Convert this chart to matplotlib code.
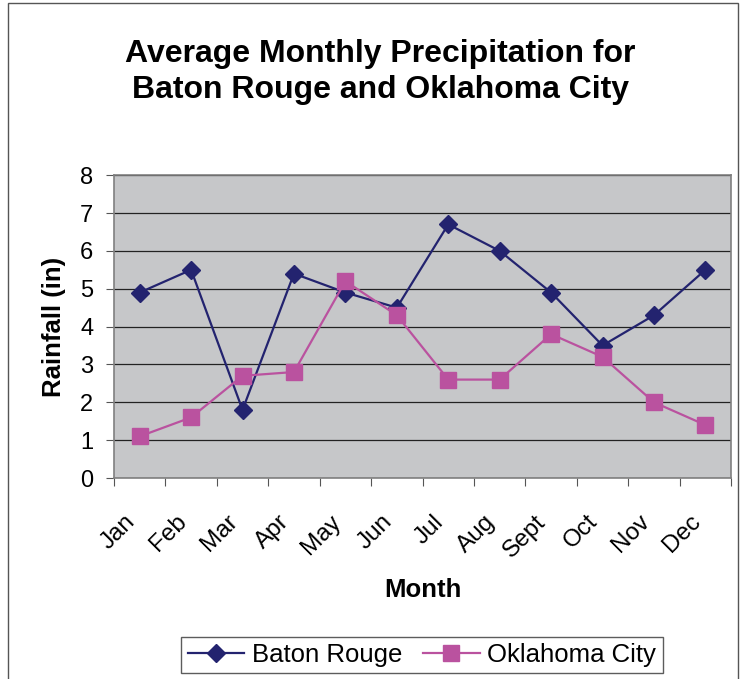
import matplotlib
matplotlib.use("Agg")
import matplotlib.pyplot as plt
from matplotlib.patches import Rectangle
from matplotlib.transforms import ScaledTranslation
import numpy as np

plt.rcParams["font.family"] = ["Liberation Sans", "DejaVu Sans"]

months = ["Jan", "Feb", "Mar", "Apr", "May", "Jun", "Jul", "Aug", "Sept", "Oct", "Nov", "Dec"]
baton_rouge = [4.9, 5.5, 1.8, 5.4, 4.9, 4.5, 6.7, 6.0, 4.9, 3.5, 4.3, 5.5]
oklahoma_city = [1.1, 1.6, 2.7, 2.8, 5.2, 4.3, 2.6, 2.6, 3.8, 3.2, 2.0, 1.4]

NAVY = "#23236f"
MAGENTA = "#ba529f"

fig = plt.figure(figsize=(7.4, 6.79), dpi=100)
fig.patches.append(Rectangle((8 / 740, -0.01), 730 / 740, 1 - 3 / 679 + 0.01,
                             transform=fig.transFigure, fill=False,
                             edgecolor="#555555", lw=1))

ax = fig.add_axes([0.154, 0.296, 0.834, 0.446])
ax.set_facecolor("#c6c7c9")

x = np.arange(len(months)) + 0.5
ax.plot(x, baton_rouge, color=NAVY, lw=1.6, marker="D", ms=9,
        label="Baton Rouge", zorder=3)
ax.plot(x, oklahoma_city, color=MAGENTA, lw=1.6, marker="s", ms=11,
        label="Oklahoma City", zorder=3)

ax.set_xlim(0, 12)
ax.set_ylim(0, 8)
ax.set_yticks(range(0, 9))
ax.yaxis.grid(True, color="#222222", lw=0.9)
ax.set_axisbelow(True)

ax.set_xticks(range(0, 13))
ax.set_xticklabels([])
ax.set_xticks(x, minor=True)
ax.set_xticklabels(months, minor=True, rotation=45, ha="right",
                   rotation_mode="anchor", fontsize=17.5)
ax.tick_params(axis="x", which="minor", length=0, pad=12)
ax.tick_params(axis="x", which="major", length=6, direction="out", color="#555555")
ax.tick_params(axis="y", length=6, direction="out", labelsize=17, pad=9, color="#555555")
shift = ScaledTranslation(-16 / 100, -16 / 100, fig.dpi_scale_trans)
for lbl in ax.get_xticklabels(minor=True):
    lbl.set_transform(lbl.get_transform() + shift)

for s in ax.spines.values():
    s.set_color("#808080")
    s.set_linewidth(1.2)

ax.set_ylabel("Rainfall (in)", fontsize=18.5, fontweight="bold", labelpad=10)
ax.set_xlabel("Month", fontsize=18.5, fontweight="bold", labelpad=12)

fig.text(0.514, 0.894, "Average Monthly Precipitation for\nBaton Rouge and Oklahoma City",
         ha="center", va="center", fontsize=23, fontweight="bold", linespacing=1.25)

leg = fig.legend(loc="center", bbox_to_anchor=(422 / 740, 1 - 655 / 679), ncol=2,
                 fontsize=18.5, frameon=True, fancybox=False, handlelength=2.2,
                 columnspacing=0.8, handletextpad=0.3, borderpad=0.25)
leg.get_frame().set_edgecolor("#333333")
leg.get_frame().set_linewidth(1)

fig.savefig("out.png", dpi=100)
